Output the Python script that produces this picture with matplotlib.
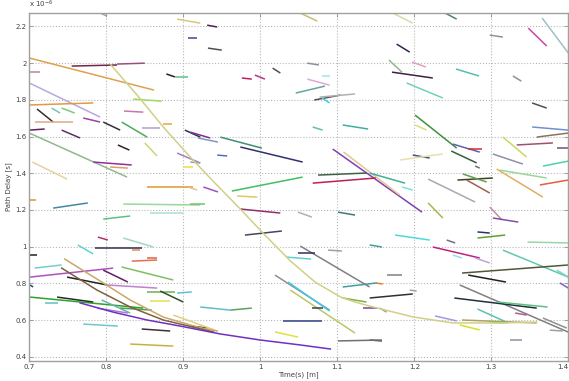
import matplotlib
matplotlib.use("Agg")
import matplotlib.pyplot as plt
from matplotlib import ticker

# short tracks: (t_start, delay_start, t_end, delay_end), delay in units of 1e-6 s
tracks = [
    (0.700, 2.028, 0.862, 1.853), (0.755, 1.984, 0.814, 1.990), (0.814, 1.995, 0.850, 2.000),
    (0.700, 1.951, 0.714, 1.951), (0.700, 1.892, 0.792, 1.706), (0.878, 1.941, 0.889, 1.925),
    (0.889, 1.925, 0.906, 1.925), (0.700, 1.772, 0.783, 1.783), (0.835, 1.804, 0.872, 1.793),
    (0.892, 2.240, 0.922, 2.218), (0.931, 2.207, 0.944, 2.197), (0.906, 2.137, 0.918, 2.137),
    (0.792, 2.273, 0.801, 2.257), (0.710, 1.750, 0.731, 1.679), (0.729, 1.755, 0.740, 1.728),
    (0.742, 1.755, 0.759, 1.728), (0.707, 1.679, 0.757, 1.679), (0.770, 1.701, 0.792, 1.679),
    (0.796, 1.679, 0.818, 1.635), (0.820, 1.679, 0.853, 1.597), (0.823, 1.739, 0.848, 1.733),
    (0.846, 1.646, 0.870, 1.646), (0.874, 1.668, 0.885, 1.668), (0.700, 1.635, 0.720, 1.641),
    (0.742, 1.635, 0.766, 1.592), (0.932, 2.082, 0.950, 2.071), (1.052, 2.273, 1.074, 2.229),
    (0.976, 1.919, 0.989, 1.913), (0.993, 1.935, 1.006, 1.913), (1.016, 1.973, 1.026, 1.946),
    (1.061, 2.000, 1.076, 1.990), (1.080, 1.930, 1.090, 1.930), (1.061, 1.913, 1.090, 1.880),
    (1.046, 1.837, 1.084, 1.875), (1.070, 1.799, 1.104, 1.826), (1.077, 1.815, 1.123, 1.832),
    (1.080, 1.810, 1.090, 1.783), (1.068, 1.652, 1.081, 1.635), (1.107, 1.663, 1.140, 1.641),
    (1.172, 2.273, 1.198, 2.218), (1.240, 2.273, 1.255, 2.240), (1.298, 2.153, 1.315, 2.142),
    (1.348, 2.191, 1.372, 2.093), (1.366, 2.246, 1.400, 2.055), (1.177, 2.104, 1.194, 2.060),
    (1.197, 2.006, 1.215, 1.979), (1.167, 2.017, 1.184, 1.951), (1.171, 1.951, 1.224, 1.919),
    (1.254, 1.968, 1.284, 1.930), (1.328, 1.930, 1.339, 1.902), (1.190, 1.892, 1.237, 1.810),
    (1.353, 1.783, 1.372, 1.755), (1.201, 1.717, 1.255, 1.537), (1.201, 1.663, 1.216, 1.635),
    (1.353, 1.652, 1.400, 1.635), (0.700, 1.619, 0.827, 1.379), (0.815, 1.554, 0.830, 1.526),
    (0.850, 1.565, 0.866, 1.494), (0.783, 1.461, 0.833, 1.445), (0.805, 1.434, 0.828, 1.428),
    (0.704, 1.461, 0.749, 1.368), (0.700, 1.254, 0.709, 1.254), (0.731, 1.210, 0.776, 1.238),
    (0.853, 1.325, 0.912, 1.325), (0.909, 1.320, 0.918, 1.309), (0.822, 1.232, 0.922, 1.227),
    (0.857, 1.183, 0.900, 1.183), (0.796, 1.150, 0.831, 1.167), (0.789, 1.052, 0.802, 1.036),
    (0.822, 1.047, 0.861, 0.998), (0.763, 1.009, 0.783, 0.960), (0.785, 0.992, 0.846, 0.992),
    (0.892, 1.510, 0.922, 1.456), (0.900, 1.434, 0.912, 1.434), (0.902, 1.635, 0.922, 1.597),
    (0.909, 1.624, 0.935, 1.592), (0.919, 1.592, 0.945, 1.570), (0.948, 1.597, 1.002, 1.537),
    (0.974, 1.543, 1.055, 1.461), (0.944, 1.499, 0.957, 1.494), (0.909, 1.461, 0.922, 1.456),
    (1.094, 1.532, 1.210, 1.188), (1.108, 1.516, 1.181, 1.281), (1.075, 1.390, 1.138, 1.401),
    (1.068, 1.346, 1.150, 1.374), (1.142, 1.401, 1.188, 1.346), (0.963, 1.303, 1.055, 1.379),
    (0.926, 1.325, 0.945, 1.298), (0.970, 1.276, 0.996, 1.270), (0.909, 1.232, 0.928, 1.232),
    (0.974, 1.205, 1.026, 1.183), (1.049, 1.188, 1.067, 1.161), (1.101, 1.188, 1.123, 1.172),
    (0.980, 1.063, 1.028, 1.085), (1.142, 1.009, 1.158, 0.998), (1.250, 1.559, 1.285, 1.515),
    (1.270, 1.532, 1.288, 1.532), (1.248, 1.521, 1.281, 1.456), (1.279, 1.439, 1.285, 1.428),
    (1.198, 1.499, 1.220, 1.483), (1.181, 1.472, 1.237, 1.505), (1.315, 1.597, 1.346, 1.488),
    (1.302, 1.505, 1.341, 1.450), (1.333, 1.554, 1.380, 1.565), (1.359, 1.597, 1.400, 1.619),
    (1.385, 1.537, 1.400, 1.537), (1.367, 1.439, 1.400, 1.466), (1.307, 1.423, 1.367, 1.270),
    (1.311, 1.417, 1.372, 1.374), (1.256, 1.363, 1.302, 1.374), (1.263, 1.396, 1.294, 1.352),
    (1.268, 1.363, 1.298, 1.292), (1.218, 1.368, 1.279, 1.243), (1.363, 1.336, 1.400, 1.363),
    (1.184, 1.325, 1.198, 1.308), (1.218, 1.238, 1.237, 1.156), (1.298, 1.216, 1.314, 1.145),
    (1.302, 1.156, 1.335, 1.134), (1.282, 1.080, 1.298, 1.074), (1.282, 1.047, 1.318, 1.063),
    (1.175, 1.063, 1.220, 1.036), (1.242, 1.036, 1.253, 1.020), (1.347, 1.025, 1.400, 1.020),
    (1.224, 0.998, 1.285, 0.938), (1.250, 0.954, 1.262, 0.938), (1.279, 0.938, 1.298, 0.911),
    (1.315, 0.981, 1.400, 0.834), (1.262, 0.856, 1.400, 0.900), (1.270, 0.845, 1.319, 0.807),
    (1.165, 0.845, 1.184, 0.845), (1.389, 0.802, 1.400, 0.774), (1.142, 0.720, 1.198, 0.742),
    (1.194, 0.763, 1.203, 0.758), (1.259, 0.791, 1.400, 0.534), (1.252, 0.720, 1.359, 0.665),
    (1.308, 0.698, 1.373, 0.671), (1.282, 0.660, 1.322, 0.584), (1.227, 0.622, 1.255, 0.595),
    (1.262, 0.600, 1.359, 0.584), (1.367, 0.611, 1.398, 0.556), (1.324, 0.491, 1.340, 0.491),
    (1.142, 0.491, 1.158, 0.486), (1.385, 0.872, 1.400, 0.834), (1.331, 0.638, 1.346, 0.627),
    (1.376, 0.545, 1.393, 0.540), (1.259, 0.573, 1.285, 0.546), (1.298, 0.589, 1.318, 0.584),
    (1.155, 0.665, 1.164, 0.643), (1.133, 0.665, 1.152, 0.665), (1.150, 0.802, 1.159, 0.796),
    (1.107, 0.780, 1.151, 0.802), (1.107, 0.720, 1.138, 0.698), (1.052, 1.003, 1.142, 0.780),
    (1.049, 0.965, 1.071, 0.965), (1.034, 0.943, 1.066, 0.932), (1.088, 0.981, 1.106, 0.976),
    (1.019, 0.845, 1.090, 0.654), (1.036, 0.807, 1.090, 0.649), (1.039, 0.763, 1.123, 0.529),
    (1.067, 0.665, 1.081, 0.665), (1.029, 0.595, 1.080, 0.595), (1.019, 0.535, 1.049, 0.507),
    (1.101, 0.486, 1.158, 0.491), (0.922, 0.671, 0.961, 0.654), (0.961, 0.654, 0.989, 0.665),
    (0.909, 0.567, 0.931, 0.556), (0.701, 0.954, 0.710, 0.954), (0.833, 0.981, 0.844, 0.981),
    (0.853, 0.938, 0.866, 0.938), (0.833, 0.921, 0.866, 0.927), (0.707, 0.883, 0.742, 0.900),
    (0.701, 0.834, 0.809, 0.883), (0.820, 0.889, 0.887, 0.818), (0.796, 0.872, 0.828, 0.807),
    (0.749, 0.834, 0.801, 0.791), (0.801, 0.791, 0.866, 0.774), (0.853, 0.753, 0.889, 0.753),
    (0.870, 0.758, 0.900, 0.698), (0.892, 0.747, 0.911, 0.753), (0.857, 0.704, 0.883, 0.704),
    (0.701, 0.725, 0.848, 0.665), (0.736, 0.725, 0.783, 0.698), (0.720, 0.693, 0.737, 0.693),
    (0.794, 0.709, 0.831, 0.638), (0.788, 0.665, 0.828, 0.638), (0.818, 0.665, 0.859, 0.654),
    (0.770, 0.578, 0.815, 0.567), (0.846, 0.551, 0.883, 0.540), (0.831, 0.469, 0.887, 0.458),
    (0.887, 0.627, 0.941, 0.545), (0.701, 0.791, 0.705, 0.780),
]

track_colors = [
    '#e0a050', '#702848', '#985080', '#c080a0', '#b8a8e0', '#202020',
    '#60c080', '#e09a40', '#a0d860', '#d8c878', '#502050', '#404890',
    '#a0a0a0', '#303030', '#70c8b8', '#80c878', '#e0a888', '#a040a8',
    '#303040', '#50a858', '#c878a8', '#b0a0c8', '#e8a838', '#602060',
    '#603060', '#505050', '#c8c070', '#c02060', '#c03088', '#505050',
    '#8890a0', '#a0e0f0', '#e0a8d0', '#60a8a0', '#505050', '#b0b0b0',
    '#40d0e0', '#60c0b0', '#40b0a0', '#d0e0a0', '#508070', '#9090a0',
    '#c848a8', '#a0c0c8', '#282850', '#e0a0c0', '#90b890', '#402040',
    '#50c0b0', '#909090', '#70d0c0', '#505050', '#409040', '#d8e080',
    '#7090d0', '#90b890', '#302030', '#c8d878', '#9030a0', '#e0a060',
    '#e8d0a0', '#e09040', '#4088a8', '#e09830', '#e8c0a0', '#98d898',
    '#a8e0d8', '#60c080', '#b03070', '#a0d8c0', '#60d0d0', '#303050',
    '#a080c0', '#e8e040', '#303060', '#803090', '#8098b8', '#409070',
    '#303070', '#5070b0', '#a0a0a0', '#8040b0', '#e0c890', '#406048',
    '#c02050', '#40b090', '#40c060', '#a050c0', '#e0c860', '#70c070',
    '#903070', '#b0b0b0', '#407878', '#404860', '#40a0a0', '#6060b0',
    '#d03030', '#306040', '#707070', '#405080', '#e8e0a8', '#c8d860',
    '#9090a8', '#a05070', '#907060', '#705080', '#50d0b0', '#e0b060',
    '#98d898', '#404020', '#60a050', '#a06050', '#a8a8b0', '#e06040',
    '#80e0e0', '#a8b848', '#c090a0', '#8050a0', '#303070', '#60a030',
    '#50d8d8', '#707080', '#98d8a8', '#c02080', '#90e0f0', '#c0a0e0',
    '#60c8b0', '#505838', '#202020', '#808080', '#8060c0', '#303030',
    '#a0a0a0', '#808080', '#203040', '#60c080', '#60c0b0', '#a898e0',
    '#b0a060', '#909090', '#9090a0', '#404040', '#80d0c0', '#b06090',
    '#a0a0a0', '#d8e020', '#80d040', '#a0a0a0', '#8040a0', '#e08030',
    '#40a0a0', '#80b040', '#808080', '#303060', '#60d0d0', '#a0a0a0',
    '#909090', '#40c8e8', '#b8c868', '#404040', '#304080', '#e0e040',
    '#707070', '#60c0c0', '#60a060', '#202020', '#202020', '#e09050',
    '#e06040', '#e07050', '#70d0d0', '#b050c0', '#80c060', '#602060',
    '#202020', '#c080d0', '#70b050', '#305030', '#60c0e0', '#e0e050',
    '#30a030', '#203020', '#60c0c0', '#70b0b0', '#a080e0', '#50a050',
    '#70c8c8', '#403030', '#c8b040', '#e0d080', '#304070',
]

# longer curved tracks
curve_yellow_t = [0.806, 0.840, 0.874, 0.909, 0.941, 0.974, 1.006, 1.039, 1.071, 1.104, 1.123, 1.142, 1.198, 1.250, 1.315, 1.359]
curve_yellow_d = [1.990, 1.826, 1.652, 1.488, 1.347, 1.205, 1.063, 0.922, 0.807, 0.726, 0.698, 0.676, 0.617, 0.584, 0.584, 0.589]
curve_tan_t = [0.746, 0.788, 0.831, 0.874, 0.918, 0.944]
curve_tan_d = [0.932, 0.823, 0.709, 0.616, 0.562, 0.540]
curve_brown_t = [0.742, 0.788, 0.831, 0.874, 0.918, 0.939]
curve_brown_d = [0.883, 0.763, 0.671, 0.600, 0.556, 0.535]
curve_purple_t = [0.766, 0.809, 0.853, 0.896, 0.948, 1.000, 1.052, 1.091]
curve_purple_d = [0.693, 0.643, 0.600, 0.567, 0.524, 0.491, 0.464, 0.442]

x_ticks = [0.7, 0.8, 0.9, 1.0, 1.1, 1.2, 1.3, 1.4]
y_ticks = [0.4, 0.6, 0.8, 1.0, 1.2, 1.4, 1.6, 1.8, 2.0, 2.2]


def main():
    fig = plt.figure(figsize=(5.69, 3.81), dpi=100)
    ax = fig.add_axes([0.0515, 0.0517, 0.9473, 0.915])

    for (t0, d0, t1, d1), col in zip(tracks, track_colors):
        ax.plot([t0, t1], [d0, d1], color=col, linewidth=1.1, solid_capstyle='butt')

    ax.plot(curve_yellow_t, curve_yellow_d, color='#d0d088', linewidth=1.1)
    ax.plot(curve_tan_t, curve_tan_d, color='#c8a868', linewidth=1.1)
    ax.plot(curve_brown_t, curve_brown_d, color='#806040', linewidth=1.1)
    ax.plot(curve_purple_t, curve_purple_d, color='#7030c0', linewidth=1.1)

    ax.set_xlim(0.7, 1.4)
    ax.set_ylim(0.375, 2.275)
    ax.set_xticks(x_ticks)
    ax.set_yticks(y_ticks)
    ax.xaxis.set_major_formatter(ticker.FormatStrFormatter('%g'))
    ax.yaxis.set_major_formatter(ticker.FormatStrFormatter('%g'))
    ax.grid(True, linestyle=':', color='#b8b8b8', linewidth=0.8)
    ax.set_axisbelow(True)
    ax.tick_params(direction='in', length=3, width=0.6, colors='#909090',
                   labelcolor='#404040', labelsize=5, top=True, right=True, pad=2)
    for sp in ax.spines.values():
        sp.set_color('#a0a0a0')
        sp.set_linewidth(1.0)

    # keep the last x label inside the figure edge
    ax.get_xticklabels()[-1].set_horizontalalignment('right')

    ax.set_xlabel('Time(s) [m]', fontsize=5, color='#404040', labelpad=1)
    ax.set_ylabel('Path Delay [s]', fontsize=5, color='#404040', labelpad=2)
    ax.text(0.0, 1.008, r'x 10$^{-6}$', transform=ax.transAxes, fontsize=5,
            color='#404040', va='bottom', ha='left')

    fig.savefig('out.png', dpi=100)


main()
